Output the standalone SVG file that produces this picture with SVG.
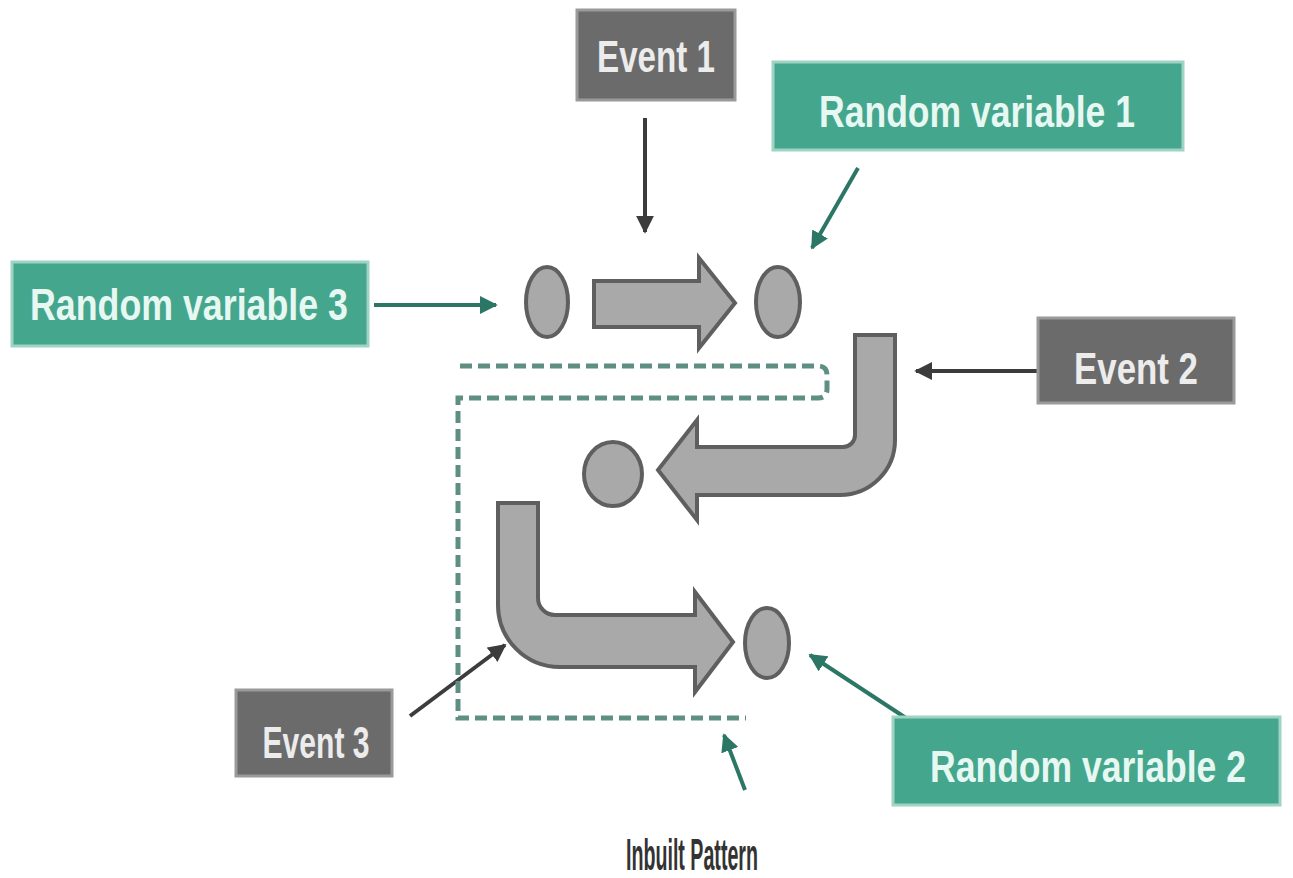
<svg xmlns="http://www.w3.org/2000/svg" width="1293" height="878" viewBox="0 0 1293 878">
<style>
.gbox{fill:#6b6b6b;stroke:#9a9a9a;stroke-width:3}
.tbox{fill:#45a68e;stroke:#9fd3c4;stroke-width:3}
.lbl{font-family:"Liberation Sans",Arial,sans-serif;font-weight:bold;font-size:44px;text-anchor:middle}
.gt{fill:#ececec}
.tt{fill:#e6f8f1}
.shape{fill:#a9a9a9;stroke:#5f5f5f;stroke-width:4;stroke-linejoin:miter}
.dk{stroke:#3c3c3c;stroke-width:4;fill:none}
.tl{stroke:#2b7665;stroke-width:4;fill:none}
.dash{stroke:#5f8f83;stroke-width:5;fill:none;stroke-dasharray:12 6}
</style>
<defs>
<marker id="ad" viewBox="0 0 10 10" refX="9" refY="5" markerWidth="4.5" markerHeight="4.5" orient="auto" markerUnits="strokeWidth"><path d="M0,0 L10,5 L0,10 z" fill="#3c3c3c"/></marker>
<marker id="at" viewBox="0 0 10 10" refX="9" refY="5" markerWidth="4.5" markerHeight="4.5" orient="auto" markerUnits="strokeWidth"><path d="M0,0 L10,5 L0,10 z" fill="#2b7665"/></marker>
</defs>
<rect width="1293" height="878" fill="#ffffff"/>

<g id="connectors">
<line class="dk" x1="645" y1="118" x2="645" y2="232" marker-end="url(#ad)"/>
<line class="tl" x1="858" y1="168" x2="812" y2="248" marker-end="url(#at)"/>
<line class="tl" x1="374" y1="305" x2="496" y2="305" marker-end="url(#at)"/>
<line class="dk" x1="1038" y1="371" x2="916" y2="371" marker-end="url(#ad)"/>
<line class="dk" x1="410" y1="716" x2="505" y2="645" marker-end="url(#ad)"/>
<line class="tl" x1="912" y1="722" x2="810" y2="655" marker-end="url(#at)"/>
<line class="tl" x1="745" y1="790" x2="724" y2="735" marker-end="url(#at)"/>
</g>

<g id="inbuilt-pattern">
<path class="dash" d="M460,366 H818 Q827,366 827,375 V389 Q827,398 818,398 H458 V718 H746"/>
<text class="lbl" x="692" y="870" fill="#333333" textLength="132" lengthAdjust="spacingAndGlyphs" font-size="43">Inbuilt Pattern</text>
</g>

<g id="shapes">
<ellipse class="shape" cx="547" cy="302" rx="21" ry="35"/>
<path class="shape" d="M594,281 H699 V258 L735,303 L699,348 V327 H594 Z"/>
<ellipse class="shape" cx="778" cy="302" rx="22" ry="35"/>
<path class="shape" d="M855,335 H895 V440 A55,55 0 0 1 840,495 H697 V520 L658,470 L697,420 V447 H843 A12,12 0 0 0 855,435 Z"/>
<ellipse class="shape" cx="613" cy="474" rx="29" ry="32"/>
<path class="shape" d="M498,503 H538 V598 A17,17 0 0 0 555,615 H695 V592 L733,642 L695,692 V667 H560 A62,62 0 0 1 498,605 Z"/>
<ellipse class="shape" cx="767" cy="643" rx="22" ry="35"/>
</g>

<g id="event1">
<rect class="gbox" x="577" y="10" width="158" height="90"/>
<text class="lbl gt" x="656" y="72" textLength="118" lengthAdjust="spacingAndGlyphs">Event 1</text>
</g>
<g id="random-variable-1">
<rect class="tbox" x="773" y="62" width="410" height="88"/>
<text class="lbl tt" x="977" y="127" textLength="316" lengthAdjust="spacingAndGlyphs">Random variable 1</text>
</g>
<g id="random-variable-3">
<rect class="tbox" x="12" y="262" width="356" height="84"/>
<text class="lbl tt" x="189" y="320" textLength="318" lengthAdjust="spacingAndGlyphs">Random variable 3</text>
</g>
<g id="event2">
<rect class="gbox" x="1038" y="318" width="196" height="85"/>
<text class="lbl gt" x="1136" y="384" textLength="124" lengthAdjust="spacingAndGlyphs">Event 2</text>
</g>
<g id="event3">
<rect class="gbox" x="236" y="690" width="156" height="86"/>
<text class="lbl gt" x="316" y="758" textLength="107" lengthAdjust="spacingAndGlyphs">Event 3</text>
</g>
<g id="random-variable-2">
<rect class="tbox" x="893" y="717" width="387" height="88"/>
<text class="lbl tt" x="1088" y="782" font-size="38" textLength="316" lengthAdjust="spacingAndGlyphs">Random variable 2</text>
</g>
</svg>
